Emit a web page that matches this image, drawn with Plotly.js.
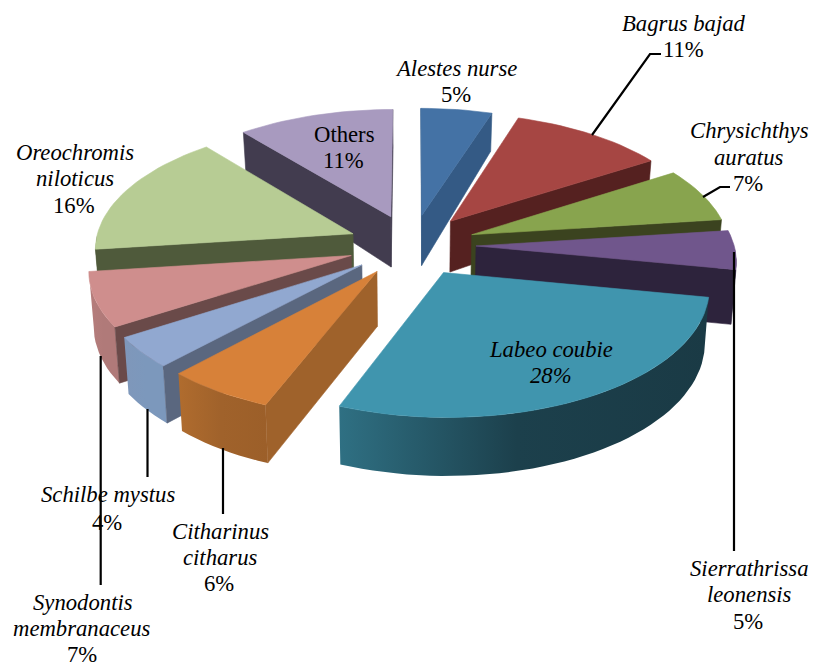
<!DOCTYPE html>
<html>
<head>
<meta charset="utf-8">
<script src="https://cdn.plot.ly/plotly-3.0.1.min.js"></script>
<style>html,body{margin:0;padding:0;background:#fff}#chart{width:813px;height:662px}</style>
</head>
<body>
<div id="chart"></div>
<script>
// Data: share of each species, clockwise from 12 o'clock
var species = ["Alestes nurse","Bagrus bajad","Chrysichthys auratus","Sierrathrissa leonensis","Labeo coubie","Citharinus citharus","Schilbe mystus","Synodontis membranaceus","Oreochromis niloticus","Others"];
var percent = [5,11,7,5,28,6,4,7,16,11];

// Styles
var topColors  = ["#4472a5","#a64643","#88a44e","#70568c","#4095ae","#d78139","#91a8d0","#cf8e8d","#b7cc94","#a89abf"];
var wallColors = ["#345a85","#552120","#3b431f","#2d233c","#1a3b46","#9f622b","#5a677f","#6a4a49","#4f5a3b","#423c4f"];
var rimLeft    = ["#345a85","#552120","#3b431f","#2d233c","#2f7083","#b06c2e","#7f97ba","#b67d7c","#4f5a3b","#423c4f"];
var rimMid     = ["#345a85","#552120","#3b431f","#2d233c","#1c404c","#a0622b","#7c98bc","#b07a79","#4f5a3b","#423c4f"];
var rimRight   = ["#345a85","#552120","#3b431f","#2d233c","#1a3a45","#9c5f29","#7c98bc","#b07a79","#4f5a3b","#423c4f"];

// Label lines
var labelText = ["<i>Alestes nurse</i>","5%","<i>Bagrus bajad</i>","11%","<i>Chrysichthys</i>","<i>auratus</i>","7%","<i>Sierrathrissa</i>","<i>leonensis</i>","5%","<i>Labeo coubie</i>","<i>28%</i>","<i>Citharinus</i>","<i>citharus</i>","6%","<i>Schilbe mystus</i>","4%","<i>Synodontis</i>","<i>membranaceus</i>","7%","<i>Oreochromis</i>","<i>niloticus</i>","16%","Others","11%"];
var labelX = [456,456,684,683,749,749,748,749,749,748,551,551,220,220,219,108,107,83,82,82,75,75,74,344,343];
var labelY = [68,94,23,49,130,157,183,568,594,621,349,375,531,557,583,494,522,602,628,654,152,178,205,134,160];

// View of the 3D pie
var cx = 412, cy = 245, radius = 258, explode = 64, tilt = 0.48, persp = 0.0004, wallH = 54, taper = 0.985;

function project(X, Y) {
  var s = 1 / (1 - persp * Y);
  var sx = cx + X * s, sy = cy + Y * tilt * s;
  var h = Y < 0 ? wallH * Math.pow(s, 3) : wallH * Math.pow(s, 0.6);
  return {x: sx, y: sy, bx: cx + (sx - cx) * taper, by: sy + h};
}
function area(p) {
  var a = 0;
  for (var i = 0; i < p.length; i++) { var q = p[(i + 1) % p.length]; a += p[i][0] * q[1] - q[0] * p[i][1]; }
  return a;
}
var total = percent.reduce(function (a, b) { return a + b; }, 0);
var slices = [], acc = 0;
percent.forEach(function (v, i) {
  var a0 = acc / total * 2 * Math.PI; acc += v;
  var a1 = acc / total * 2 * Math.PI;
  slices.push({i: i, a0: a0, a1: a1, mid: (a0 + a1) / 2});
});
slices.sort(function (a, b) { return Math.cos(b.mid) - Math.cos(a.mid); });

function polyTrace(poly, color, grad) {
  var t = {
    type: "scatter", mode: "lines", fill: "toself", hoverinfo: "skip", showlegend: false,
    x: poly.map(function (p) { return p[0]; }).concat([poly[0][0]]),
    y: poly.map(function (p) { return p[1]; }).concat([poly[0][1]]),
    fillcolor: color, line: {color: color, width: grad ? 0 : 0.6}
  };
  if (grad) t.fillgradient = {type: "horizontal", colorscale: [[0, grad[0]], [0.48, grad[1]], [1, grad[2]]]};
  return t;
}

var traces = [];
slices.forEach(function (sl) {
  var i = sl.i;
  var ex = explode * Math.sin(sl.mid), ey = -explode * Math.cos(sl.mid);
  var at = function (a) { return project(ex + radius * Math.sin(a), ey - radius * Math.cos(a)); };
  var apex = project(ex, ey);
  var n = Math.max(2, Math.ceil((sl.a1 - sl.a0) / 0.04));
  var rim = [];
  for (var k = 0; k <= n; k++) rim.push(sl.a0 + (sl.a1 - sl.a0) * k / n);

  // curved outer wall, only the part that faces the viewer
  var lim0 = Math.PI * 0.5, lim1 = Math.PI * 1.5;
  var vis = rim.filter(function (a) { return a >= lim0 && a <= lim1; });
  if (vis.length > 1) {
    var upper = vis.map(function (a) { var p = at(a); return [p.x, p.y]; });
    var lower = vis.map(function (a) { var p = at(a); return [p.bx, p.by]; }).reverse();
    traces.push(polyTrace(upper.concat(lower), rimLeft[i], [rimLeft[i], rimMid[i], rimRight[i]]));
  }
  // flat radial walls, drawn only when they face the viewer
  [[sl.a0, -1], [sl.a1, 1]].forEach(function (w) {
    var p = at(w[0]);
    var poly = [[apex.x, apex.y], [p.x, p.y], [p.bx, p.by], [apex.bx, apex.by]];
    if (area(poly) * w[1] > 0) traces.push(polyTrace(poly, wallColors[i]));
  });
  // top face
  var face = [[apex.x, apex.y]].concat(rim.map(function (a) { var p = at(a); return [p.x, p.y]; }));
  traces.push(polyTrace(face, topColors[i]));
});

var annotations = labelText.map(function (s, i) {
  return {x: labelX[i], y: labelY[i], xref: "x", yref: "y", text: s, showarrow: false,
          align: "center", xanchor: "center", yanchor: "middle",
          font: {family: "'Liberation Serif', 'Times New Roman', serif", size: 22.7, color: "#000"}};
});

var leaders = ["M592,135 L650,54 L661,54","M703,197 L720,187 L730,187","M734,252 L734,551","M223,448 L223,514","M147.5,409 L147.5,477","M100.7,356 L100.7,585"];

var layout = {
  width: 813, height: 662, margin: {l: 0, r: 0, t: 0, b: 0},
  paper_bgcolor: "#fff", plot_bgcolor: "#fff", showlegend: false,
  xaxis: {range: [0, 813], visible: false, fixedrange: true},
  yaxis: {range: [662, 0], visible: false, fixedrange: true},
  annotations: annotations,
  shapes: leaders.map(function (d) { return {type: "path", path: d, xref: "x", yref: "y", line: {color: "#000", width: 2.2}, layer: "above"}; })
};
Plotly.newPlot("chart", traces, layout, {displayModeBar: false, staticPlot: true});
</script>
</body>
</html>
